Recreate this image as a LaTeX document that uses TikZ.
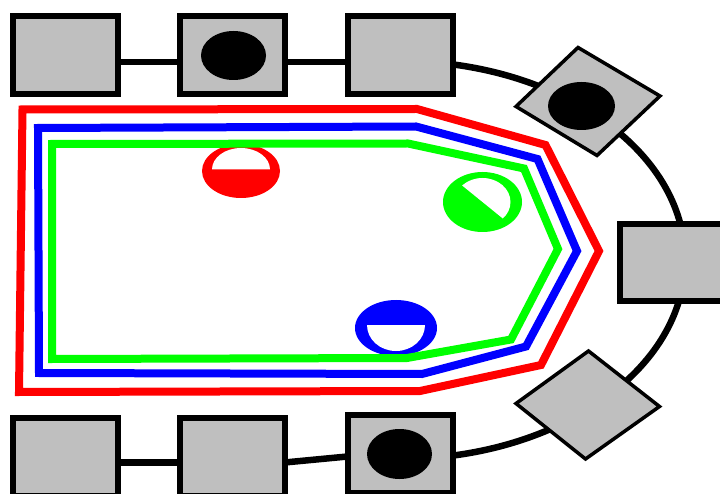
\documentclass[tikz,border=0pt]{standalone}
\usetikzlibrary{backgrounds}
\definecolor{boxgray}{RGB}{191,191,191}
\tikzset{
  box/.style={draw=black, fill=boxgray, line width=6pt, minimum width=105pt, minimum height=78pt, inner sep=0pt, outer sep=0pt},
  link/.style={draw=black, line width=6.5pt},
  dia/.style={draw=black, fill=boxgray, line width=3.5pt, line join=miter},
  track/.style={line width=8pt, line join=miter},
  dot/.style={fill=black}
}
\begin{document}
\begin{tikzpicture}[x=1pt,y=-1pt]
\path[use as bounding box, clip] (0,0) rectangle (720,494);

% boxes
\node[box] (t1) at (65,55) {};
\node[box] (t2) at (232,55) {};
\node[box] (t3) at (400,55) {};
\node[box] (b1) at (65,457) {};
\node[box] (b2) at (232,457) {};
\node[box] (b3) at (400,454) {};
\node[box, minimum height=77pt] (r) at (672.5,262.5) {};

% diamonds
\coordinate (d1) at (587.5,101.5);
\coordinate (d2) at (587.5,405);
\draw[dia] (578,47.5) -- (660,96) -- (597,155.5) -- (516,106.5) -- cycle;
\draw[dia] (588.5,351) -- (659.5,406.5) -- (585.5,459) -- (516,403.5) -- cycle;

% black dots
\fill[dot] (t2.center) ++(1.5,0.5) ellipse[x radius=32.5, y radius=24.5];
\fill[dot] (581.5,106) ellipse[x radius=33.5, y radius=24];
\fill[dot] (b3.center) ++(-0.5,0) ellipse[x radius=32.5, y radius=25];

% connectors underneath
\begin{pgfonlayer}{background}
\fill[white] (0,0) rectangle (720,494);
\draw[link] ([yshift=-7pt]t1.east) -- ([yshift=-7pt]t2.west);
\draw[link] ([yshift=-7pt]t2.east) -- ([yshift=-7pt]t3.west);
\draw[link] ([yshift=-5.5pt]b1.east) -- ([yshift=-5.5pt]b2.west);
\draw[link] ([yshift=-5.5pt]b2.east) -- ([yshift=-2.5pt]b3.west);
\draw[link] ([yshift=-5pt]b3.center) arc[start angle=90, end angle=-90, x radius=285, y radius=199];
\end{pgfonlayer}

% coloured markers
\fill[red] (241,171) ellipse[x radius=39, y radius=27];
\fill[white] (212,169.5) arc[start angle=180, end angle=360, x radius=29, y radius=21.5] -- cycle;
\fill[blue] (396,328) ellipse[x radius=41, y radius=28];
\fill[white] (367,325) arc[start angle=180, end angle=0, x radius=29, y radius=26] -- cycle;
\fill[green] (482.5,202) ellipse[x radius=39.5, y radius=30];
\begin{scope}
\clip (408.5,142) -- (556.5,262) -- (616.5,188) -- (468.5,68) -- cycle;
\fill[white] (482.5,202) ellipse[x radius=28, y radius=24];
\end{scope}

% tracks
\draw[track, red] (22.5,109.5) -- (417,109) -- (545.5,145) -- (599,251) -- (541,365) -- (420,391) -- (19,392) -- cycle;
\draw[track, blue] (38,128) -- (416,126.5) -- (537.5,159) -- (577,251) -- (526,346.5) -- (422,374) -- (39,373) -- cycle;
\draw[track, green] (52,144) -- (408,143.5) -- (524,168.5) -- (558,249) -- (511,339.5) -- (407,358) -- (52,359) -- cycle;
\end{tikzpicture}
\end{document}
